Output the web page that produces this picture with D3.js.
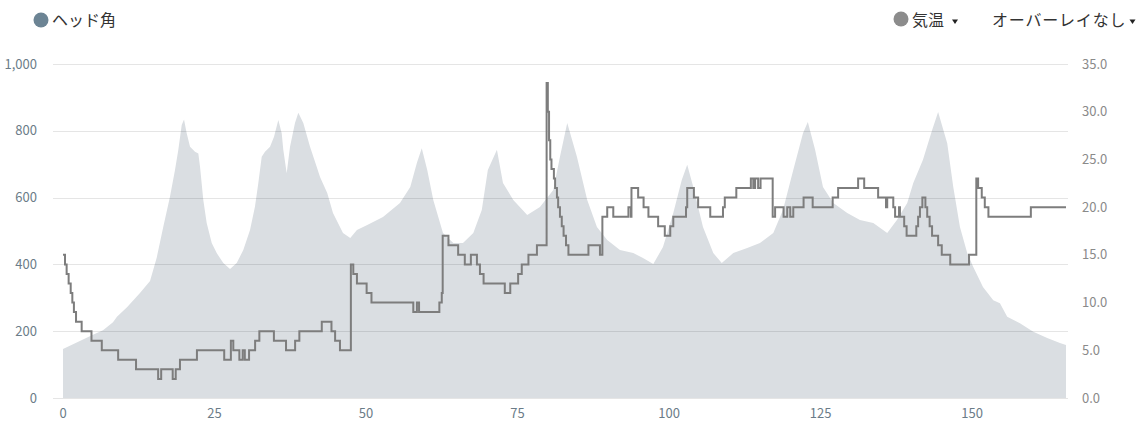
<!DOCTYPE html>
<html><head><meta charset="utf-8">
<script src="https://cdn.jsdelivr.net/npm/d3@7"></script>
<style>
body{margin:0;background:#fff;}
svg text{font-family:"Noto Sans CJK JP","Noto Sans",sans-serif;}
</style></head>
<body><svg id="c" width="1141" height="429"></svg>
<script>
// Area series (left axis, ヘッド角): [distance, value]
const areaPoints = [[0,147],[4.95,189],[6.6,203],[8.25,227],[8.9,243],[10.56,272],[12.7,314],[14.36,350],[15.46,420],[16.55,513],[17.66,603],[18.48,683],[19.03,743],[19.59,817],[19.97,834],[20.41,793],[20.96,752],[21.78,737],[22.33,732],[22.61,692],[23.15,593],[23.71,524],[24.54,464],[25.36,434],[26.45,404],[27.56,386],[28.66,404],[29.75,443],[30.86,503],[31.68,573],[32.23,644],[32.79,722],[33.33,737],[34.16,752],[34.82,782],[35.53,832],[36.09,793],[36.35,743],[36.91,673],[37.46,752],[38.28,823],[38.83,854],[39.65,823],[40.76,752],[41.86,692],[42.41,662],[43.6,614],[44.55,554],[46.2,494],[47.4,479],[48.5,503],[50.2,518],[52.8,542],[55.6,584],[57.3,632],[58.4,704],[59.2,748],[60.1,683],[61.1,593],[62.7,494],[64.4,464],[66.0,464],[67.7,494],[69.1,563],[70.1,683],[71.6,743],[72.6,644],[74.3,593],[76.6,548],[78.7,572],[80.9,623],[82.0,722],[83.2,823],[84.8,722],[86.5,593],[88.1,512],[89.8,473],[91.9,443],[94.1,434],[95.7,419],[97.4,401],[99.0,452],[100.7,554],[102.1,653],[103.0,698],[104.0,632],[105.6,512],[107.3,434],[108.7,404],[110.6,434],[112.9,449],[115.0,464],[117.2,494],[118.8,563],[120.5,683],[122.1,793],[122.9,826],[124.1,743],[125.4,632],[127.1,584],[129.4,554],[131.5,533],[133.7,524],[136.0,494],[137.6,533],[139.3,584],[140.3,644],[141.9,713],[143.4,802],[144.4,856],[145.9,763],[146.9,632],[148.0,512],[149.2,434],[150.2,392],[151.8,332],[153.5,293],[154.6,284],[155.8,243],[157.9,224],[160.1,198],[162.4,180],[164.5,165],[165.5,159]];
// Temperature series (right axis, 気温): [step start distance, °C]
const tempSteps = [[0,15],[0.33,14],[0.6,13],[0.93,12],[1.27,11],[1.54,10],[1.8,9],[2.15,8],[3.08,7],[4.7,6],[6.4,5],[9.1,4],[12.05,3],[15.7,2],[16.2,3],[18.1,2],[18.6,3],[19.3,4],[22.1,5],[26.6,4],[27.7,6],[28.1,5],[29.1,4],[29.65,5],[30.0,4],[30.7,5],[31.7,6],[32.4,7],[34.8,6],[36.8,5],[38.3,6],[39.0,7],[42.7,8],[44.3,7],[44.9,6],[45.7,5],[47.5,14],[47.9,13],[48.5,12],[50.1,11],[50.9,10],[57.8,9],[58.4,10],[58.75,9],[62.1,10],[62.5,11],[62.65,17],[63.6,16],[65.2,15],[66.3,14],[67.3,15],[68.3,14],[68.8,13],[69.4,12],[72.9,11],[73.8,12],[75.1,13],[75.7,14],[76.8,15],[78.2,16],[79.8,33],[80.0,30],[80.2,27],[80.4,25],[80.6,24],[81.0,23],[81.2,22],[81.5,21],[81.7,20],[82.0,19],[82.3,18],[82.6,17],[83.0,16],[83.4,15],[86.7,16],[88.6,15],[89.0,19],[89.8,20],[90.8,19],[93.3,20],[93.7,19],[93.8,22],[94.9,21],[95.8,20],[96.6,19],[98.2,18],[99.3,17],[100.2,18],[100.7,19],[102.8,20],[103.0,22],[104.1,21],[104.8,20],[106.8,19],[108.9,20],[109.2,21],[111.1,22],[113.5,23],[113.9,22],[114.2,23],[114.7,22],[115.1,23],[117.1,19],[117.5,20],[118.9,19],[119.5,20],[120.0,19],[120.5,20],[122.2,21],[123.7,20],[127.0,21],[127.9,22],[131.2,23],[132.2,22],[134.5,21],[135.8,20],[136.0,21],[137.0,20],[137.3,19],[137.95,20],[138.1,19],[138.8,18],[139.2,17],[140.8,18],[141.1,19],[141.4,20],[141.8,21],[142.3,20],[142.6,19],[143.0,18],[143.4,17],[144.4,16],[145.0,15],[146.4,14],[149.5,15],[150.7,23],[151.0,22],[151.6,21],[152.1,20],[152.7,19],[159.7,20],[165.5,20]];
const leftTicks = [0,200,400,600,800,1000];
const rightTicks = [0,5,10,15,20,25,30,35];
const xTicks = [0,25,50,75,100,125,150];

const svg = d3.select("#c");
const x = d3.scaleLinear().domain([0,165.5]).range([63,1066]);
const yL = d3.scaleLinear().domain([0,1000]).range([398,64]);
const yR = d3.scaleLinear().domain([0,35]).range([398,64]);

// area
svg.append("path").datum(areaPoints)
  .attr("d", d3.area().x(d=>x(d[0])).y0(yL(0)).y1(d=>yL(d[1])))
  .attr("fill","#dadee2");

// grid (over the area, faint)
svg.append("g").selectAll("line").data(leftTicks).join("line")
  .attr("x1",53).attr("x2",1068).attr("y1",d=>Math.round(yL(d))+0.5).attr("y2",d=>Math.round(yL(d))+0.5)
  .attr("stroke","rgba(0,0,0,0.1)").attr("stroke-width",1);

// temperature line
svg.append("path").datum(tempSteps)
  .attr("d", d3.line().curve(d3.curveStepAfter).x(d=>x(d[0])).y(d=>yR(d[1])))
  .attr("fill","none").attr("stroke","#7d7d7d").attr("stroke-width",2);

// axes labels
svg.append("g").selectAll("text").data(leftTicks).join("text")
  .attr("x",37).attr("y",d=>yL(d)+4.5).attr("text-anchor","end")
  .attr("font-size",13).attr("fill","#6b7c88").text(d=>d3.format(",")(d));
svg.append("g").selectAll("text").data(rightTicks).join("text")
  .attr("x",1082).attr("y",d=>yR(d)+4.5).attr("text-anchor","start")
  .attr("font-size",13).attr("fill","#8a8a8a").text(d=>d.toFixed(1));
svg.append("g").selectAll("text").data(xTicks).join("text")
  .attr("x",d=>x(d)).attr("y",418).attr("text-anchor","middle")
  .attr("font-size",13).attr("fill","#6b7c88").text(d=>d);

// legend
const tri = (cx,cy)=>`M${cx-3},${cy-2}L${cx+3},${cy-2}L${cx},${cy+2.5}Z`;
svg.append("circle").attr("cx",41).attr("cy",20).attr("r",7.5).attr("fill","#6c8494");
svg.append("text").attr("x",52).attr("y",26).attr("font-size",16).attr("fill","#333").text("ヘッド角");
svg.append("circle").attr("cx",901).attr("cy",19).attr("r",7.5).attr("fill","#8c8c8c");
svg.append("text").attr("x",912).attr("y",26).attr("font-size",16).attr("fill","#333").text("気温");
svg.append("path").attr("d",tri(955,21.5)).attr("fill","#222");
svg.append("text").attr("x",992).attr("y",26).attr("font-size",16).attr("letter-spacing","0.8").attr("fill","#333").text("オーバーレイなし");
svg.append("path").attr("d",tri(1132.5,21.5)).attr("fill","#222");
</script></body></html>
